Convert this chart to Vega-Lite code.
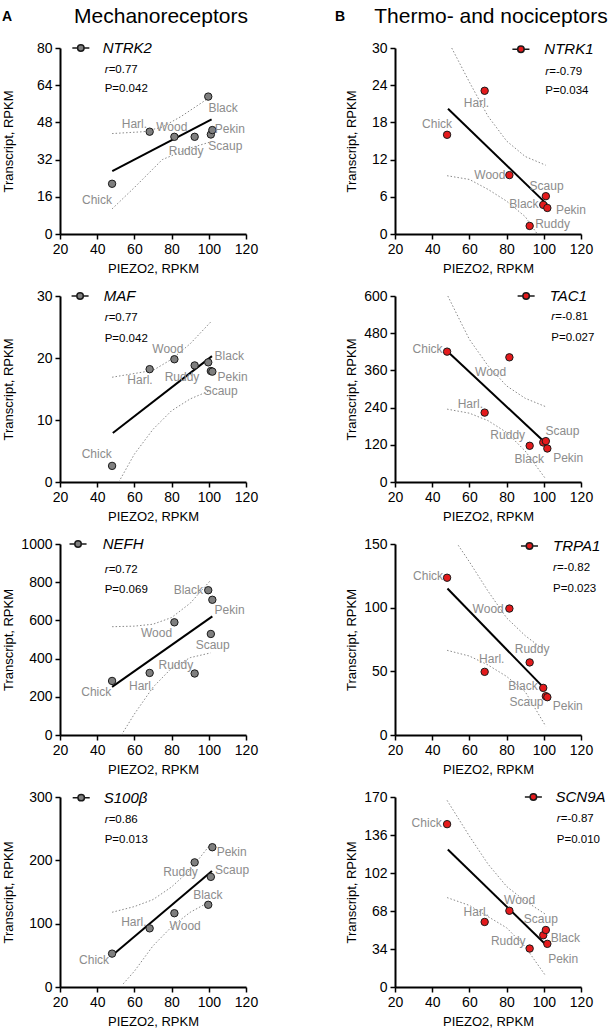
{
"$schema": "https://vega.github.io/schema/vega-lite/v6.json",
"padding": {"left": 2, "top": 6, "right": 0, "bottom": 0},
"background": "white",
"config": {
  "font": "Liberation Sans, Arial, sans-serif",
  "view": {"stroke": null},
  "axis": {"grid": false, "domainColor": "black", "domainWidth": 2, "tickColor": "black", "tickWidth": 1.5, "tickSize": 5, "labelFontSize": 14, "labelColor": "black", "titleFontSize": 13, "titleFontWeight": "normal", "titleColor": "black", "labelFlush": false, "labelOverlap": false, "labelPadding": 3, "titlePadding": 6},
  "axisLeft": {"titleX": -45},
  "title": {"fontWeight": "normal", "color": "black"}
},
"datasets": {"d": [
{"g":"NTRK2","k":"pt","s":"Chick","x":48,"y":21.6},
{"g":"NTRK2","k":"pt","s":"Harl","x":68.2,"y":44},
{"g":"NTRK2","k":"pt","s":"Wood","x":81.5,"y":41.8},
{"g":"NTRK2","k":"pt","s":"Ruddy","x":92.4,"y":41.8},
{"g":"NTRK2","k":"pt","s":"Black","x":99.7,"y":59.1},
{"g":"NTRK2","k":"pt","s":"Scaup","x":101.1,"y":42.8},
{"g":"NTRK2","k":"pt","s":"Pekin","x":101.9,"y":44.7},
{"g":"NTRK2","k":"lb","t":"Chick","x":39.9,"y":14.8},
{"g":"NTRK2","k":"lb","t":"Harl.","x":60,"y":47.1},
{"g":"NTRK2","k":"lb","t":"Wood","x":80.1,"y":46.1},
{"g":"NTRK2","k":"lb","t":"Ruddy","x":87.8,"y":35.6},
{"g":"NTRK2","k":"lb","t":"Black","x":107.7,"y":54.3},
{"g":"NTRK2","k":"lb","t":"Pekin","x":111.3,"y":45.1},
{"g":"NTRK2","k":"lb","t":"Scaup","x":108.9,"y":37.8},
{"g":"NTRK2","k":"fit","x":48.1,"y":27.0},
{"g":"NTRK2","k":"fit","x":101.5,"y":49.3},
{"g":"NTRK2","k":"band","s":"u","x":48,"y":43.2},
{"g":"NTRK2","k":"band","s":"u","x":65,"y":44},
{"g":"NTRK2","k":"band","s":"u","x":75,"y":46},
{"g":"NTRK2","k":"band","s":"u","x":85,"y":50.5},
{"g":"NTRK2","k":"band","s":"u","x":100,"y":58.5},
{"g":"NTRK2","k":"band","s":"l","x":48,"y":10.8},
{"g":"NTRK2","k":"band","s":"l","x":60,"y":20},
{"g":"NTRK2","k":"band","s":"l","x":75,"y":32},
{"g":"NTRK2","k":"band","s":"l","x":90,"y":37},
{"g":"NTRK2","k":"band","s":"l","x":101,"y":39.6},
{"g":"NTRK2","k":"sym","x":31.2,"y":80},
{"g":"NTRK2","k":"gene","t":"NTRK2","x":43,"y":80},
{"g":"NTRK2","k":"r","t":"=0.77","x":44,"y":70.6},
{"g":"NTRK2","k":"p","t":"P=0.042","x":44,"y":62.4},

{"g":"MAF","k":"pt","s":"Chick","x":48,"y":2.6},
{"g":"MAF","k":"pt","s":"Harl","x":68.2,"y":18.2},
{"g":"MAF","k":"pt","s":"Wood","x":81.5,"y":19.8},
{"g":"MAF","k":"pt","s":"Ruddy","x":92.4,"y":18.8},
{"g":"MAF","k":"pt","s":"Black","x":99.7,"y":19.3},
{"g":"MAF","k":"pt","s":"Scaup","x":101.1,"y":17.9},
{"g":"MAF","k":"pt","s":"Pekin","x":101.9,"y":17.8},
{"g":"MAF","k":"lb","t":"Chick","x":39.7,"y":4.5},
{"g":"MAF","k":"lb","t":"Harl.","x":63,"y":16.4},
{"g":"MAF","k":"lb","t":"Wood","x":78,"y":21.4},
{"g":"MAF","k":"lb","t":"Ruddy","x":85.6,"y":16.9},
{"g":"MAF","k":"lb","t":"Black","x":111,"y":20.3},
{"g":"MAF","k":"lb","t":"Pekin","x":112.8,"y":17.0},
{"g":"MAF","k":"lb","t":"Scaup","x":106.4,"y":14.6},
{"g":"MAF","k":"fit","x":48.4,"y":7.9},
{"g":"MAF","k":"fit","x":101.7,"y":20.3},
{"g":"MAF","k":"band","s":"u","x":48,"y":16.9},
{"g":"MAF","k":"band","s":"u","x":70,"y":18},
{"g":"MAF","k":"band","s":"u","x":80,"y":19.8},
{"g":"MAF","k":"band","s":"u","x":90,"y":22.3},
{"g":"MAF","k":"band","s":"u","x":101,"y":25.8},
{"g":"MAF","k":"band","s":"l","x":51.6,"y":0},
{"g":"MAF","k":"band","s":"l","x":60,"y":4.5},
{"g":"MAF","k":"band","s":"l","x":70,"y":8.5},
{"g":"MAF","k":"band","s":"l","x":80,"y":11.5},
{"g":"MAF","k":"band","s":"l","x":90,"y":13.4},
{"g":"MAF","k":"band","s":"l","x":101,"y":14.8},
{"g":"MAF","k":"sym","x":30.8,"y":30},
{"g":"MAF","k":"gene","t":"MAF","x":43.5,"y":30},
{"g":"MAF","k":"r","t":"=0.77","x":44,"y":26.5},
{"g":"MAF","k":"p","t":"P=0.042","x":44,"y":23.1},

{"g":"NEFH","k":"pt","s":"Chick","x":48,"y":283},
{"g":"NEFH","k":"pt","s":"Harl","x":68.2,"y":325},
{"g":"NEFH","k":"pt","s":"Wood","x":81.5,"y":590},
{"g":"NEFH","k":"pt","s":"Ruddy","x":92.4,"y":322},
{"g":"NEFH","k":"pt","s":"Black","x":99.7,"y":758},
{"g":"NEFH","k":"pt","s":"Scaup","x":101.1,"y":529},
{"g":"NEFH","k":"pt","s":"Pekin","x":101.9,"y":708},
{"g":"NEFH","k":"lb","t":"Chick","x":39.5,"y":226},
{"g":"NEFH","k":"lb","t":"Harl.","x":63.9,"y":257},
{"g":"NEFH","k":"lb","t":"Wood","x":71.9,"y":536},
{"g":"NEFH","k":"lb","t":"Ruddy","x":82.3,"y":369},
{"g":"NEFH","k":"lb","t":"Black","x":89,"y":757},
{"g":"NEFH","k":"lb","t":"Pekin","x":111.2,"y":654},
{"g":"NEFH","k":"lb","t":"Scaup","x":102.1,"y":473},
{"g":"NEFH","k":"fit","x":48,"y":252},
{"g":"NEFH","k":"fit","x":101.9,"y":621},
{"g":"NEFH","k":"band","s":"u","x":48,"y":567},
{"g":"NEFH","k":"band","s":"u","x":60,"y":570},
{"g":"NEFH","k":"band","s":"u","x":70,"y":580},
{"g":"NEFH","k":"band","s":"u","x":80,"y":615},
{"g":"NEFH","k":"band","s":"u","x":90,"y":690},
{"g":"NEFH","k":"band","s":"u","x":101,"y":810},
{"g":"NEFH","k":"band","s":"l","x":53,"y":0},
{"g":"NEFH","k":"band","s":"l","x":60,"y":110},
{"g":"NEFH","k":"band","s":"l","x":70,"y":250},
{"g":"NEFH","k":"band","s":"l","x":80,"y":350},
{"g":"NEFH","k":"band","s":"l","x":90,"y":405},
{"g":"NEFH","k":"band","s":"l","x":101,"y":430},
{"g":"NEFH","k":"sym","x":29.7,"y":1000},
{"g":"NEFH","k":"gene","t":"NEFH","x":43,"y":1000},
{"g":"NEFH","k":"r","t":"=0.72","x":44,"y":864},
{"g":"NEFH","k":"p","t":"P=0.069","x":44,"y":760},

{"g":"S100B","k":"pt","s":"Chick","x":48,"y":52.7},
{"g":"S100B","k":"pt","s":"Harl","x":68.2,"y":92.6},
{"g":"S100B","k":"pt","s":"Wood","x":81.5,"y":116.5},
{"g":"S100B","k":"pt","s":"Ruddy","x":92.4,"y":196.8},
{"g":"S100B","k":"pt","s":"Black","x":99.7,"y":129.8},
{"g":"S100B","k":"pt","s":"Scaup","x":101.1,"y":173.9},
{"g":"S100B","k":"pt","s":"Pekin","x":101.9,"y":220.7},
{"g":"S100B","k":"lb","t":"Chick","x":38.3,"y":42},
{"g":"S100B","k":"lb","t":"Harl.","x":59.7,"y":103},
{"g":"S100B","k":"lb","t":"Wood","x":87.3,"y":96.8},
{"g":"S100B","k":"lb","t":"Ruddy","x":84.8,"y":180.9},
{"g":"S100B","k":"lb","t":"Black","x":99.5,"y":144.7},
{"g":"S100B","k":"lb","t":"Pekin","x":112.3,"y":213.8},
{"g":"S100B","k":"lb","t":"Scaup","x":112.5,"y":184.6},
{"g":"S100B","k":"fit","x":48.3,"y":50.5},
{"g":"S100B","k":"fit","x":101.7,"y":183},
{"g":"S100B","k":"band","s":"u","x":48,"y":118},
{"g":"S100B","k":"band","s":"u","x":60,"y":127},
{"g":"S100B","k":"band","s":"u","x":70,"y":138},
{"g":"S100B","k":"band","s":"u","x":80,"y":158},
{"g":"S100B","k":"band","s":"u","x":90,"y":185},
{"g":"S100B","k":"band","s":"u","x":100,"y":222},
{"g":"S100B","k":"band","s":"l","x":54,"y":5},
{"g":"S100B","k":"band","s":"l","x":60,"y":25},
{"g":"S100B","k":"band","s":"l","x":70,"y":65},
{"g":"S100B","k":"band","s":"l","x":80,"y":95},
{"g":"S100B","k":"band","s":"l","x":90,"y":118},
{"g":"S100B","k":"band","s":"l","x":100,"y":134},
{"g":"S100B","k":"sym","x":31.4,"y":299},
{"g":"S100B","k":"gene","t":"S100β","x":43.5,"y":299},
{"g":"S100B","k":"r","t":"=0.86","x":44,"y":264},
{"g":"S100B","k":"p","t":"P=0.013","x":44,"y":232},

{"g":"NTRK1","k":"pt","s":"Chick","x":48,"y":16.0},
{"g":"NTRK1","k":"pt","s":"Harl","x":68.2,"y":23.1},
{"g":"NTRK1","k":"pt","s":"Wood","x":81.5,"y":9.5},
{"g":"NTRK1","k":"pt","s":"Ruddy","x":92.4,"y":1.3},
{"g":"NTRK1","k":"pt","s":"Black","x":99.7,"y":4.7},
{"g":"NTRK1","k":"pt","s":"Scaup","x":101.1,"y":6.1},
{"g":"NTRK1","k":"pt","s":"Pekin","x":101.9,"y":4.2},
{"g":"NTRK1","k":"lb","t":"Harl.","x":63.8,"y":21.1},
{"g":"NTRK1","k":"lb","t":"Chick","x":42.6,"y":17.8},
{"g":"NTRK1","k":"lb","t":"Wood","x":71,"y":9.5},
{"g":"NTRK1","k":"lb","t":"Scaup","x":101.5,"y":7.8},
{"g":"NTRK1","k":"lb","t":"Black","x":89.3,"y":4.9},
{"g":"NTRK1","k":"lb","t":"Pekin","x":114.6,"y":3.9},
{"g":"NTRK1","k":"lb","t":"Ruddy","x":104.7,"y":1.6},
{"g":"NTRK1","k":"fit","x":48.5,"y":20.2},
{"g":"NTRK1","k":"fit","x":102,"y":4.7},
{"g":"NTRK1","k":"band","s":"u","x":50.5,"y":30},
{"g":"NTRK1","k":"band","s":"u","x":60,"y":24.5},
{"g":"NTRK1","k":"band","s":"u","x":70,"y":19},
{"g":"NTRK1","k":"band","s":"u","x":80,"y":15},
{"g":"NTRK1","k":"band","s":"u","x":90,"y":12.5},
{"g":"NTRK1","k":"band","s":"u","x":101,"y":11.1},
{"g":"NTRK1","k":"band","s":"l","x":48,"y":9.4},
{"g":"NTRK1","k":"band","s":"l","x":60,"y":8.8},
{"g":"NTRK1","k":"band","s":"l","x":70,"y":7.2},
{"g":"NTRK1","k":"band","s":"l","x":80,"y":5.3},
{"g":"NTRK1","k":"band","s":"l","x":90,"y":2.8},
{"g":"NTRK1","k":"band","s":"l","x":96.5,"y":0},
{"g":"NTRK1","k":"sym","x":87.7,"y":29.8},
{"g":"NTRK1","k":"gene","t":"NTRK1","x":100.3,"y":29.8},
{"g":"NTRK1","k":"r","t":"=-0.79","x":100.8,"y":26.1},
{"g":"NTRK1","k":"p","t":"P=0.034","x":100.8,"y":23.1},

{"g":"TAC1","k":"pt","s":"Chick","x":48,"y":420.5},
{"g":"TAC1","k":"pt","s":"Harl","x":68.2,"y":223.8},
{"g":"TAC1","k":"pt","s":"Wood","x":81.5,"y":402.2},
{"g":"TAC1","k":"pt","s":"Ruddy","x":92.4,"y":116.8},
{"g":"TAC1","k":"pt","s":"Black","x":99.7,"y":127.6},
{"g":"TAC1","k":"pt","s":"Scaup","x":101.1,"y":131.9},
{"g":"TAC1","k":"pt","s":"Pekin","x":101.9,"y":108.1},
{"g":"TAC1","k":"lb","t":"Chick","x":37.5,"y":429},
{"g":"TAC1","k":"lb","t":"Wood","x":71.4,"y":355.7},
{"g":"TAC1","k":"lb","t":"Harl.","x":60.5,"y":250.8},
{"g":"TAC1","k":"lb","t":"Ruddy","x":80.6,"y":151.4},
{"g":"TAC1","k":"lb","t":"Scaup","x":110,"y":163.2},
{"g":"TAC1","k":"lb","t":"Black","x":92.2,"y":75.7},
{"g":"TAC1","k":"lb","t":"Pekin","x":113.1,"y":78.9},
{"g":"TAC1","k":"fit","x":48.4,"y":420.5},
{"g":"TAC1","k":"fit","x":100.8,"y":126.5},
{"g":"TAC1","k":"band","s":"u","x":48.4,"y":600},
{"g":"TAC1","k":"band","s":"u","x":55,"y":520},
{"g":"TAC1","k":"band","s":"u","x":60,"y":460},
{"g":"TAC1","k":"band","s":"u","x":70,"y":375},
{"g":"TAC1","k":"band","s":"u","x":80,"y":310},
{"g":"TAC1","k":"band","s":"u","x":90,"y":270},
{"g":"TAC1","k":"band","s":"u","x":101,"y":243},
{"g":"TAC1","k":"band","s":"l","x":48,"y":235},
{"g":"TAC1","k":"band","s":"l","x":60,"y":222},
{"g":"TAC1","k":"band","s":"l","x":70,"y":198},
{"g":"TAC1","k":"band","s":"l","x":80,"y":160},
{"g":"TAC1","k":"band","s":"l","x":90,"y":100},
{"g":"TAC1","k":"band","s":"l","x":101,"y":10},
{"g":"TAC1","k":"sym","x":90.5,"y":600},
{"g":"TAC1","k":"gene","t":"TAC1","x":103.2,"y":600},
{"g":"TAC1","k":"r","t":"=-0.81","x":104,"y":533},
{"g":"TAC1","k":"p","t":"P=0.027","x":104,"y":465},

{"g":"TRPA1","k":"pt","s":"Chick","x":48,"y":123.5},
{"g":"TRPA1","k":"pt","s":"Harl","x":68.2,"y":49.6},
{"g":"TRPA1","k":"pt","s":"Wood","x":81.5,"y":99.3},
{"g":"TRPA1","k":"pt","s":"Ruddy","x":92.4,"y":57},
{"g":"TRPA1","k":"pt","s":"Black","x":99.7,"y":37},
{"g":"TRPA1","k":"pt","s":"Scaup","x":101.1,"y":30.5},
{"g":"TRPA1","k":"pt","s":"Pekin","x":101.9,"y":29.7},
{"g":"TRPA1","k":"lb","t":"Chick","x":37.8,"y":124.5},
{"g":"TRPA1","k":"lb","t":"Wood","x":70.1,"y":99},
{"g":"TRPA1","k":"lb","t":"Ruddy","x":93.7,"y":67.3},
{"g":"TRPA1","k":"lb","t":"Harl.","x":72,"y":59.9},
{"g":"TRPA1","k":"lb","t":"Black","x":88.8,"y":38.4},
{"g":"TRPA1","k":"lb","t":"Scaup","x":90.7,"y":25.7},
{"g":"TRPA1","k":"lb","t":"Pekin","x":112.9,"y":23.1},
{"g":"TRPA1","k":"fit","x":48.2,"y":115},
{"g":"TRPA1","k":"fit","x":100.6,"y":36.2},
{"g":"TRPA1","k":"band","s":"u","x":54,"y":149},
{"g":"TRPA1","k":"band","s":"u","x":60,"y":136},
{"g":"TRPA1","k":"band","s":"u","x":70,"y":113},
{"g":"TRPA1","k":"band","s":"u","x":80,"y":92},
{"g":"TRPA1","k":"band","s":"u","x":90,"y":78},
{"g":"TRPA1","k":"band","s":"u","x":100,"y":67},
{"g":"TRPA1","k":"band","s":"l","x":48,"y":66.5},
{"g":"TRPA1","k":"band","s":"l","x":60,"y":62},
{"g":"TRPA1","k":"band","s":"l","x":70,"y":55},
{"g":"TRPA1","k":"band","s":"l","x":80,"y":46},
{"g":"TRPA1","k":"band","s":"l","x":90,"y":34},
{"g":"TRPA1","k":"band","s":"l","x":101,"y":7},
{"g":"TRPA1","k":"sym","x":92.3,"y":148.4},
{"g":"TRPA1","k":"gene","t":"TRPA1","x":105,"y":148.4},
{"g":"TRPA1","k":"r","t":"=-0.82","x":105,"y":130.8},
{"g":"TRPA1","k":"p","t":"P=0.023","x":105,"y":115},

{"g":"SCN9A","k":"pt","s":"Chick","x":48,"y":145.7},
{"g":"SCN9A","k":"pt","s":"Harl","x":68.2,"y":58.2},
{"g":"SCN9A","k":"pt","s":"Wood","x":81.5,"y":68.2},
{"g":"SCN9A","k":"pt","s":"Ruddy","x":92.4,"y":34.4},
{"g":"SCN9A","k":"pt","s":"Black","x":99.7,"y":46.3},
{"g":"SCN9A","k":"pt","s":"Scaup","x":101.1,"y":51},
{"g":"SCN9A","k":"pt","s":"Pekin","x":101.9,"y":38.6},
{"g":"SCN9A","k":"lb","t":"Chick","x":37,"y":146.6},
{"g":"SCN9A","k":"lb","t":"Wood","x":87,"y":77.7},
{"g":"SCN9A","k":"lb","t":"Harl.","x":63.7,"y":67.4},
{"g":"SCN9A","k":"lb","t":"Scaup","x":98.4,"y":60.8},
{"g":"SCN9A","k":"lb","t":"Black","x":111.6,"y":43.9},
{"g":"SCN9A","k":"lb","t":"Ruddy","x":80.9,"y":41.5},
{"g":"SCN9A","k":"lb","t":"Pekin","x":110.4,"y":25.5},
{"g":"SCN9A","k":"fit","x":48.4,"y":123.1},
{"g":"SCN9A","k":"fit","x":101.4,"y":37.4},
{"g":"SCN9A","k":"band","s":"u","x":48,"y":167},
{"g":"SCN9A","k":"band","s":"u","x":60,"y":135},
{"g":"SCN9A","k":"band","s":"u","x":70,"y":110},
{"g":"SCN9A","k":"band","s":"u","x":80,"y":90},
{"g":"SCN9A","k":"band","s":"u","x":90,"y":77},
{"g":"SCN9A","k":"band","s":"u","x":101,"y":65},
{"g":"SCN9A","k":"band","s":"l","x":48,"y":80},
{"g":"SCN9A","k":"band","s":"l","x":60,"y":73},
{"g":"SCN9A","k":"band","s":"l","x":70,"y":63},
{"g":"SCN9A","k":"band","s":"l","x":80,"y":53},
{"g":"SCN9A","k":"band","s":"l","x":90,"y":36},
{"g":"SCN9A","k":"band","s":"l","x":101,"y":10},
{"g":"SCN9A","k":"sym","x":94.4,"y":170},
{"g":"SCN9A","k":"gene","t":"SCN9A","x":106.3,"y":170},
{"g":"SCN9A","k":"r","t":"=-0.87","x":107,"y":150.7},
{"g":"SCN9A","k":"p","t":"P=0.010","x":107,"y":131.5}
]},
"spacing": 77,
"hconcat": [
{
"title": {"text": "A", "anchor": "start", "fontWeight": "bold", "fontSize": 14, "dy": 22},
"spacing": 62, "bounds": "flush",
"vconcat": [
{"width": 186, "height": 186, "title": {"text": "Mechanoreceptors", "fontSize": 21, "anchor": "middle", "dx": 8, "offset": 14},
 "data": {"name": "d"}, "transform": [{"filter": "datum.g=='NTRK2'"}],
 "encoding": {"x": {"field": "x", "type": "quantitative", "scale": {"domain": [20, 120], "nice": false, "zero": false}, "axis": {"values": [20, 40, 60, 80, 100, 120], "title": "PIEZO2, RPKM"}},
  "y": {"field": "y", "type": "quantitative", "scale": {"domain": [0, 80], "nice": false}, "axis": {"values": [0, 16, 32, 48, 64, 80], "title": "Transcript, RPKM"}}},
 "layer": [
  {"transform": [{"filter": "datum.k=='band'"}], "mark": {"type": "line", "strokeDash": [1.5, 2], "color": "#8a8a8a", "strokeWidth": 1}, "encoding": {"detail": {"field": "s"}}},
  {"transform": [{"filter": "datum.k=='fit'"}], "mark": {"type": "line", "color": "black", "strokeWidth": 2}, "encoding": {}},
  {"transform": [{"filter": "datum.k=='pt'"}], "mark": {"type": "point", "shape": "circle", "filled": true, "size": 55, "color": "#7f7f7f", "stroke": "#1a1a1a", "strokeWidth": 1, "opacity": 1}},
  {"transform": [{"filter": "datum.k=='lb'"}], "mark": {"type": "text", "color": "#8c8c8c", "fontSize": 12}, "encoding": {"text": {"field": "t"}}},
  {"transform": [{"filter": "datum.k=='sym'"}], "mark": {"type": "point", "shape": "M-1,0H-0.38M0.38,0H1M-0.38,0A0.38,0.38,0,1,1,0.38,0A0.38,0.38,0,1,1,-0.38,0", "filled": true, "size": 290, "color": "#7f7f7f", "stroke": "#1a1a1a", "strokeWidth": 1.5, "opacity": 1}},
  {"transform": [{"filter": "datum.k=='gene'"}], "mark": {"type": "text", "align": "left", "fontStyle": "italic", "fontSize": 15, "color": "black"}, "encoding": {"text": {"field": "t"}}},
  {"transform": [{"filter": "datum.k=='r'"}], "mark": {"type": "text", "align": "left", "fontStyle": "italic", "fontSize": 11.5, "color": "black", "text": "r"}},
  {"transform": [{"filter": "datum.k=='r'"}], "mark": {"type": "text", "align": "left", "fontSize": 11.5, "color": "black", "dx": 4}, "encoding": {"text": {"field": "t"}}},
  {"transform": [{"filter": "datum.k=='p'"}], "mark": {"type": "text", "align": "left", "fontSize": 11.5, "color": "black"}, "encoding": {"text": {"field": "t"}}}
 ]},
{"width": 186, "height": 186,
 "data": {"name": "d"}, "transform": [{"filter": "datum.g=='MAF'"}],
 "encoding": {"x": {"field": "x", "type": "quantitative", "scale": {"domain": [20, 120], "nice": false, "zero": false}, "axis": {"values": [20, 40, 60, 80, 100, 120], "title": "PIEZO2, RPKM"}},
  "y": {"field": "y", "type": "quantitative", "scale": {"domain": [0, 30], "nice": false}, "axis": {"values": [0, 10, 20, 30], "title": "Transcript, RPKM"}}},
 "layer": [
  {"transform": [{"filter": "datum.k=='band'"}], "mark": {"type": "line", "strokeDash": [1.5, 2], "color": "#8a8a8a", "strokeWidth": 1}, "encoding": {"detail": {"field": "s"}}},
  {"transform": [{"filter": "datum.k=='fit'"}], "mark": {"type": "line", "color": "black", "strokeWidth": 2}, "encoding": {}},
  {"transform": [{"filter": "datum.k=='pt'"}], "mark": {"type": "point", "shape": "circle", "filled": true, "size": 55, "color": "#7f7f7f", "stroke": "#1a1a1a", "strokeWidth": 1, "opacity": 1}},
  {"transform": [{"filter": "datum.k=='lb'"}], "mark": {"type": "text", "color": "#8c8c8c", "fontSize": 12}, "encoding": {"text": {"field": "t"}}},
  {"transform": [{"filter": "datum.k=='sym'"}], "mark": {"type": "point", "shape": "M-1,0H-0.38M0.38,0H1M-0.38,0A0.38,0.38,0,1,1,0.38,0A0.38,0.38,0,1,1,-0.38,0", "filled": true, "size": 290, "color": "#7f7f7f", "stroke": "#1a1a1a", "strokeWidth": 1.5, "opacity": 1}},
  {"transform": [{"filter": "datum.k=='gene'"}], "mark": {"type": "text", "align": "left", "fontStyle": "italic", "fontSize": 15, "color": "black"}, "encoding": {"text": {"field": "t"}}},
  {"transform": [{"filter": "datum.k=='r'"}], "mark": {"type": "text", "align": "left", "fontStyle": "italic", "fontSize": 11.5, "color": "black", "text": "r"}},
  {"transform": [{"filter": "datum.k=='r'"}], "mark": {"type": "text", "align": "left", "fontSize": 11.5, "color": "black", "dx": 4}, "encoding": {"text": {"field": "t"}}},
  {"transform": [{"filter": "datum.k=='p'"}], "mark": {"type": "text", "align": "left", "fontSize": 11.5, "color": "black"}, "encoding": {"text": {"field": "t"}}}
 ]},
{"width": 186, "height": 191,
 "data": {"name": "d"}, "transform": [{"filter": "datum.g=='NEFH'"}],
 "encoding": {"x": {"field": "x", "type": "quantitative", "scale": {"domain": [20, 120], "nice": false, "zero": false}, "axis": {"values": [20, 40, 60, 80, 100, 120], "title": "PIEZO2, RPKM"}},
  "y": {"field": "y", "type": "quantitative", "scale": {"domain": [0, 1000], "nice": false}, "axis": {"values": [0, 200, 400, 600, 800, 1000], "format": "d", "title": "Transcript, RPKM"}}},
 "layer": [
  {"transform": [{"filter": "datum.k=='band'"}], "mark": {"type": "line", "strokeDash": [1.5, 2], "color": "#8a8a8a", "strokeWidth": 1}, "encoding": {"detail": {"field": "s"}}},
  {"transform": [{"filter": "datum.k=='fit'"}], "mark": {"type": "line", "color": "black", "strokeWidth": 2}, "encoding": {}},
  {"transform": [{"filter": "datum.k=='pt'"}], "mark": {"type": "point", "shape": "circle", "filled": true, "size": 55, "color": "#7f7f7f", "stroke": "#1a1a1a", "strokeWidth": 1, "opacity": 1}},
  {"transform": [{"filter": "datum.k=='lb'"}], "mark": {"type": "text", "color": "#8c8c8c", "fontSize": 12}, "encoding": {"text": {"field": "t"}}},
  {"transform": [{"filter": "datum.k=='sym'"}], "mark": {"type": "point", "shape": "M-1,0H-0.38M0.38,0H1M-0.38,0A0.38,0.38,0,1,1,0.38,0A0.38,0.38,0,1,1,-0.38,0", "filled": true, "size": 290, "color": "#7f7f7f", "stroke": "#1a1a1a", "strokeWidth": 1.5, "opacity": 1}},
  {"transform": [{"filter": "datum.k=='gene'"}], "mark": {"type": "text", "align": "left", "fontStyle": "italic", "fontSize": 15, "color": "black"}, "encoding": {"text": {"field": "t"}}},
  {"transform": [{"filter": "datum.k=='r'"}], "mark": {"type": "text", "align": "left", "fontStyle": "italic", "fontSize": 11.5, "color": "black", "text": "r"}},
  {"transform": [{"filter": "datum.k=='r'"}], "mark": {"type": "text", "align": "left", "fontSize": 11.5, "color": "black", "dx": 4}, "encoding": {"text": {"field": "t"}}},
  {"transform": [{"filter": "datum.k=='p'"}], "mark": {"type": "text", "align": "left", "fontSize": 11.5, "color": "black"}, "encoding": {"text": {"field": "t"}}}
 ]},
{"width": 186, "height": 190,
 "data": {"name": "d"}, "transform": [{"filter": "datum.g=='S100B'"}],
 "encoding": {"x": {"field": "x", "type": "quantitative", "scale": {"domain": [20, 120], "nice": false, "zero": false}, "axis": {"values": [20, 40, 60, 80, 100, 120], "title": "PIEZO2, RPKM"}},
  "y": {"field": "y", "type": "quantitative", "scale": {"domain": [0, 300], "nice": false}, "axis": {"values": [0, 100, 200, 300], "title": "Transcript, RPKM"}}},
 "layer": [
  {"transform": [{"filter": "datum.k=='band'"}], "mark": {"type": "line", "strokeDash": [1.5, 2], "color": "#8a8a8a", "strokeWidth": 1}, "encoding": {"detail": {"field": "s"}}},
  {"transform": [{"filter": "datum.k=='fit'"}], "mark": {"type": "line", "color": "black", "strokeWidth": 2}, "encoding": {}},
  {"transform": [{"filter": "datum.k=='pt'"}], "mark": {"type": "point", "shape": "circle", "filled": true, "size": 55, "color": "#7f7f7f", "stroke": "#1a1a1a", "strokeWidth": 1, "opacity": 1}},
  {"transform": [{"filter": "datum.k=='lb'"}], "mark": {"type": "text", "color": "#8c8c8c", "fontSize": 12}, "encoding": {"text": {"field": "t"}}},
  {"transform": [{"filter": "datum.k=='sym'"}], "mark": {"type": "point", "shape": "M-1,0H-0.38M0.38,0H1M-0.38,0A0.38,0.38,0,1,1,0.38,0A0.38,0.38,0,1,1,-0.38,0", "filled": true, "size": 290, "color": "#7f7f7f", "stroke": "#1a1a1a", "strokeWidth": 1.5, "opacity": 1}},
  {"transform": [{"filter": "datum.k=='gene'"}], "mark": {"type": "text", "align": "left", "fontStyle": "italic", "fontSize": 15, "color": "black"}, "encoding": {"text": {"field": "t"}}},
  {"transform": [{"filter": "datum.k=='r'"}], "mark": {"type": "text", "align": "left", "fontStyle": "italic", "fontSize": 11.5, "color": "black", "text": "r"}},
  {"transform": [{"filter": "datum.k=='r'"}], "mark": {"type": "text", "align": "left", "fontSize": 11.5, "color": "black", "dx": 4}, "encoding": {"text": {"field": "t"}}},
  {"transform": [{"filter": "datum.k=='p'"}], "mark": {"type": "text", "align": "left", "fontSize": 11.5, "color": "black"}, "encoding": {"text": {"field": "t"}}}
 ]}
]},
{
"title": {"text": "B", "anchor": "start", "fontWeight": "bold", "fontSize": 14, "dy": 22, "dx": -10},
"spacing": 62, "bounds": "flush",
"vconcat": [
{"width": 186, "height": 186, "title": {"text": "Thermo- and nociceptors", "fontSize": 21, "anchor": "middle", "dx": 3, "offset": 14},
 "data": {"name": "d"}, "transform": [{"filter": "datum.g=='NTRK1'"}],
 "encoding": {"x": {"field": "x", "type": "quantitative", "scale": {"domain": [20, 120], "nice": false, "zero": false}, "axis": {"values": [20, 40, 60, 80, 100, 120], "title": "PIEZO2, RPKM"}},
  "y": {"field": "y", "type": "quantitative", "scale": {"domain": [0, 30], "nice": false}, "axis": {"values": [0, 6, 12, 18, 24, 30], "title": "Transcript, RPKM", "titleX": -37}}},
 "layer": [
  {"transform": [{"filter": "datum.k=='band'"}], "mark": {"type": "line", "strokeDash": [1.5, 2], "color": "#8a8a8a", "strokeWidth": 1}, "encoding": {"detail": {"field": "s"}}},
  {"transform": [{"filter": "datum.k=='fit'"}], "mark": {"type": "line", "color": "black", "strokeWidth": 2}, "encoding": {}},
  {"transform": [{"filter": "datum.k=='pt'"}], "mark": {"type": "point", "shape": "circle", "filled": true, "size": 55, "color": "#e41a1c", "stroke": "#1a1a1a", "strokeWidth": 1, "opacity": 1}},
  {"transform": [{"filter": "datum.k=='lb'"}], "mark": {"type": "text", "color": "#8c8c8c", "fontSize": 12}, "encoding": {"text": {"field": "t"}}},
  {"transform": [{"filter": "datum.k=='sym'"}], "mark": {"type": "point", "shape": "M-1,0H-0.38M0.38,0H1M-0.38,0A0.38,0.38,0,1,1,0.38,0A0.38,0.38,0,1,1,-0.38,0", "filled": true, "size": 290, "color": "#e41a1c", "stroke": "#1a1a1a", "strokeWidth": 1.5, "opacity": 1}},
  {"transform": [{"filter": "datum.k=='gene'"}], "mark": {"type": "text", "align": "left", "fontStyle": "italic", "fontSize": 15, "color": "black"}, "encoding": {"text": {"field": "t"}}},
  {"transform": [{"filter": "datum.k=='r'"}], "mark": {"type": "text", "align": "left", "fontStyle": "italic", "fontSize": 11.5, "color": "black", "text": "r"}},
  {"transform": [{"filter": "datum.k=='r'"}], "mark": {"type": "text", "align": "left", "fontSize": 11.5, "color": "black", "dx": 4}, "encoding": {"text": {"field": "t"}}},
  {"transform": [{"filter": "datum.k=='p'"}], "mark": {"type": "text", "align": "left", "fontSize": 11.5, "color": "black"}, "encoding": {"text": {"field": "t"}}}
 ]},
{"width": 186, "height": 186,
 "data": {"name": "d"}, "transform": [{"filter": "datum.g=='TAC1'"}],
 "encoding": {"x": {"field": "x", "type": "quantitative", "scale": {"domain": [20, 120], "nice": false, "zero": false}, "axis": {"values": [20, 40, 60, 80, 100, 120], "title": "PIEZO2, RPKM"}},
  "y": {"field": "y", "type": "quantitative", "scale": {"domain": [0, 600], "nice": false}, "axis": {"values": [0, 120, 240, 360, 480, 600], "title": "Transcript, RPKM", "titleX": -37}}},
 "layer": [
  {"transform": [{"filter": "datum.k=='band'"}], "mark": {"type": "line", "strokeDash": [1.5, 2], "color": "#8a8a8a", "strokeWidth": 1}, "encoding": {"detail": {"field": "s"}}},
  {"transform": [{"filter": "datum.k=='fit'"}], "mark": {"type": "line", "color": "black", "strokeWidth": 2}, "encoding": {}},
  {"transform": [{"filter": "datum.k=='pt'"}], "mark": {"type": "point", "shape": "circle", "filled": true, "size": 55, "color": "#e41a1c", "stroke": "#1a1a1a", "strokeWidth": 1, "opacity": 1}},
  {"transform": [{"filter": "datum.k=='lb'"}], "mark": {"type": "text", "color": "#8c8c8c", "fontSize": 12}, "encoding": {"text": {"field": "t"}}},
  {"transform": [{"filter": "datum.k=='sym'"}], "mark": {"type": "point", "shape": "M-1,0H-0.38M0.38,0H1M-0.38,0A0.38,0.38,0,1,1,0.38,0A0.38,0.38,0,1,1,-0.38,0", "filled": true, "size": 290, "color": "#e41a1c", "stroke": "#1a1a1a", "strokeWidth": 1.5, "opacity": 1}},
  {"transform": [{"filter": "datum.k=='gene'"}], "mark": {"type": "text", "align": "left", "fontStyle": "italic", "fontSize": 15, "color": "black"}, "encoding": {"text": {"field": "t"}}},
  {"transform": [{"filter": "datum.k=='r'"}], "mark": {"type": "text", "align": "left", "fontStyle": "italic", "fontSize": 11.5, "color": "black", "text": "r"}},
  {"transform": [{"filter": "datum.k=='r'"}], "mark": {"type": "text", "align": "left", "fontSize": 11.5, "color": "black", "dx": 4}, "encoding": {"text": {"field": "t"}}},
  {"transform": [{"filter": "datum.k=='p'"}], "mark": {"type": "text", "align": "left", "fontSize": 11.5, "color": "black"}, "encoding": {"text": {"field": "t"}}}
 ]},
{"width": 186, "height": 191,
 "data": {"name": "d"}, "transform": [{"filter": "datum.g=='TRPA1'"}],
 "encoding": {"x": {"field": "x", "type": "quantitative", "scale": {"domain": [20, 120], "nice": false, "zero": false}, "axis": {"values": [20, 40, 60, 80, 100, 120], "title": "PIEZO2, RPKM"}},
  "y": {"field": "y", "type": "quantitative", "scale": {"domain": [0, 150], "nice": false}, "axis": {"values": [0, 50, 100, 150], "title": "Transcript, RPKM", "titleX": -37}}},
 "layer": [
  {"transform": [{"filter": "datum.k=='band'"}], "mark": {"type": "line", "strokeDash": [1.5, 2], "color": "#8a8a8a", "strokeWidth": 1}, "encoding": {"detail": {"field": "s"}}},
  {"transform": [{"filter": "datum.k=='fit'"}], "mark": {"type": "line", "color": "black", "strokeWidth": 2}, "encoding": {}},
  {"transform": [{"filter": "datum.k=='pt'"}], "mark": {"type": "point", "shape": "circle", "filled": true, "size": 55, "color": "#e41a1c", "stroke": "#1a1a1a", "strokeWidth": 1, "opacity": 1}},
  {"transform": [{"filter": "datum.k=='lb'"}], "mark": {"type": "text", "color": "#8c8c8c", "fontSize": 12}, "encoding": {"text": {"field": "t"}}},
  {"transform": [{"filter": "datum.k=='sym'"}], "mark": {"type": "point", "shape": "M-1,0H-0.38M0.38,0H1M-0.38,0A0.38,0.38,0,1,1,0.38,0A0.38,0.38,0,1,1,-0.38,0", "filled": true, "size": 290, "color": "#e41a1c", "stroke": "#1a1a1a", "strokeWidth": 1.5, "opacity": 1}},
  {"transform": [{"filter": "datum.k=='gene'"}], "mark": {"type": "text", "align": "left", "fontStyle": "italic", "fontSize": 15, "color": "black"}, "encoding": {"text": {"field": "t"}}},
  {"transform": [{"filter": "datum.k=='r'"}], "mark": {"type": "text", "align": "left", "fontStyle": "italic", "fontSize": 11.5, "color": "black", "text": "r"}},
  {"transform": [{"filter": "datum.k=='r'"}], "mark": {"type": "text", "align": "left", "fontSize": 11.5, "color": "black", "dx": 4}, "encoding": {"text": {"field": "t"}}},
  {"transform": [{"filter": "datum.k=='p'"}], "mark": {"type": "text", "align": "left", "fontSize": 11.5, "color": "black"}, "encoding": {"text": {"field": "t"}}}
 ]},
{"width": 186, "height": 190,
 "data": {"name": "d"}, "transform": [{"filter": "datum.g=='SCN9A'"}],
 "encoding": {"x": {"field": "x", "type": "quantitative", "scale": {"domain": [20, 120], "nice": false, "zero": false}, "axis": {"values": [20, 40, 60, 80, 100, 120], "title": "PIEZO2, RPKM"}},
  "y": {"field": "y", "type": "quantitative", "scale": {"domain": [0, 170], "nice": false}, "axis": {"values": [0, 34, 68, 102, 136, 170], "title": "Transcript, RPKM", "titleX": -37}}},
 "layer": [
  {"transform": [{"filter": "datum.k=='band'"}], "mark": {"type": "line", "strokeDash": [1.5, 2], "color": "#8a8a8a", "strokeWidth": 1}, "encoding": {"detail": {"field": "s"}}},
  {"transform": [{"filter": "datum.k=='fit'"}], "mark": {"type": "line", "color": "black", "strokeWidth": 2}, "encoding": {}},
  {"transform": [{"filter": "datum.k=='pt'"}], "mark": {"type": "point", "shape": "circle", "filled": true, "size": 55, "color": "#e41a1c", "stroke": "#1a1a1a", "strokeWidth": 1, "opacity": 1}},
  {"transform": [{"filter": "datum.k=='lb'"}], "mark": {"type": "text", "color": "#8c8c8c", "fontSize": 12}, "encoding": {"text": {"field": "t"}}},
  {"transform": [{"filter": "datum.k=='sym'"}], "mark": {"type": "point", "shape": "M-1,0H-0.38M0.38,0H1M-0.38,0A0.38,0.38,0,1,1,0.38,0A0.38,0.38,0,1,1,-0.38,0", "filled": true, "size": 290, "color": "#e41a1c", "stroke": "#1a1a1a", "strokeWidth": 1.5, "opacity": 1}},
  {"transform": [{"filter": "datum.k=='gene'"}], "mark": {"type": "text", "align": "left", "fontStyle": "italic", "fontSize": 15, "color": "black"}, "encoding": {"text": {"field": "t"}}},
  {"transform": [{"filter": "datum.k=='r'"}], "mark": {"type": "text", "align": "left", "fontStyle": "italic", "fontSize": 11.5, "color": "black", "text": "r"}},
  {"transform": [{"filter": "datum.k=='r'"}], "mark": {"type": "text", "align": "left", "fontSize": 11.5, "color": "black", "dx": 4}, "encoding": {"text": {"field": "t"}}},
  {"transform": [{"filter": "datum.k=='p'"}], "mark": {"type": "text", "align": "left", "fontSize": 11.5, "color": "black"}, "encoding": {"text": {"field": "t"}}}
 ]}
]}
]
}
